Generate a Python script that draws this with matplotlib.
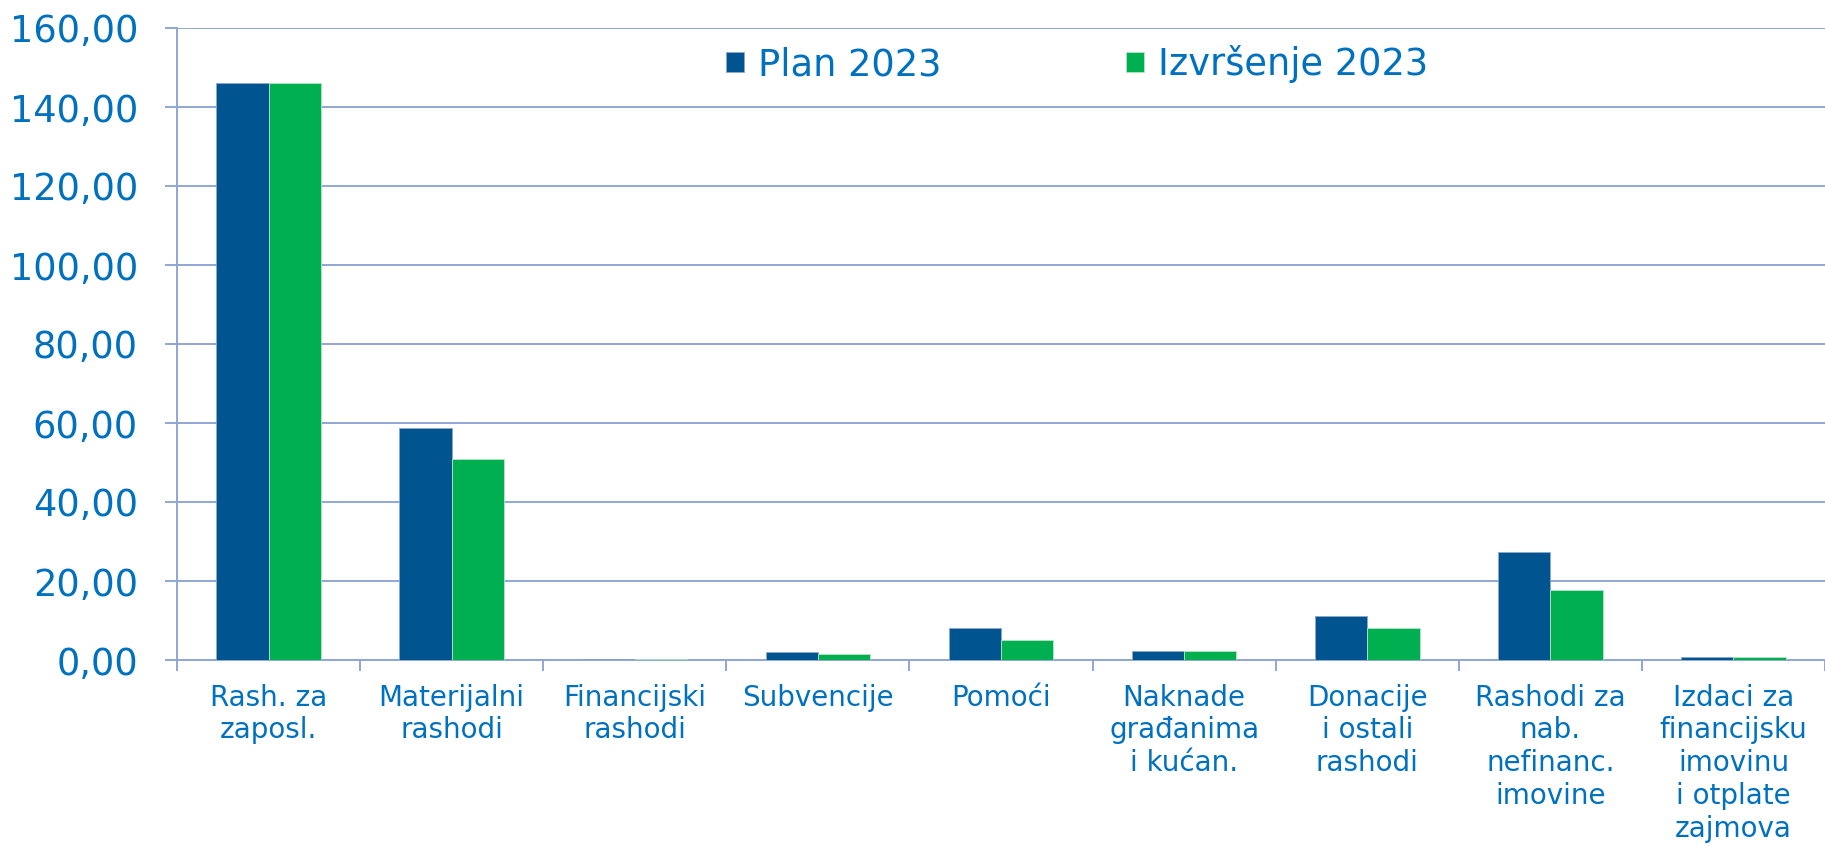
import matplotlib
matplotlib.use("Agg")
import matplotlib.pyplot as plt
import numpy as np
from matplotlib.ticker import FuncFormatter, FixedLocator

categories = ["Rash. za\nzaposl.", "Materijalni\nrashodi", "Financijski\nrashodi",
              "Subvencije", "Pomoći", "Naknade\ngrađanima\ni kućan.",
              "Donacije\ni ostali\nrashodi", "Rashodi za\nnab.\nnefinanc.\nimovine",
              "Izdaci za\nfinancijsku\nimovinu\ni otplate\nzajmova"]
plan_2023 = [146.0, 58.7, 0.3, 1.9, 8.2, 2.3, 11.2, 27.3, 0.8]
izvrsenje_2023 = [146.0, 51.0, 0.2, 1.4, 5.1, 2.2, 8.2, 17.6, 0.8]

text_col = "#0070C0"
grid_col = "#8FA6D4"
plan_col = "#00548F"
izvr_col = "#00B050"

plt.rcParams['font.family'] = ['DejaVu Sans']

fig = plt.figure(figsize=(18.25, 8.47), dpi=100)
ax = fig.add_axes([177 / 1825, 1 - 660 / 847, 1 - 177 / 1825, 632 / 847])

x = np.arange(len(categories))
w = 0.286
ax.bar(x - w / 2, plan_2023, w, color=plan_col, edgecolor="#8FA6CF", linewidth=0.6,
       label="Plan 2023", zorder=3)
ax.bar(x + w / 2, izvrsenje_2023, w, color=izvr_col, edgecolor="#B8E6C8", linewidth=0.6,
       label="Izvršenje 2023", zorder=3)

ax.set_xlim(-0.5, len(categories) - 0.5)
ax.set_ylim(0, 160)
ax.set_yticks(np.arange(0, 161, 20))
ax.yaxis.set_major_formatter(FuncFormatter(lambda v, p: f"{v:.2f}".replace(".", ",")))
ax.grid(axis="y", color=grid_col, linewidth=1.4, zorder=0)

ax.set_xticks(x)
ax.set_xticklabels(categories, fontsize=20, color=text_col, linespacing=1.22, va="top")
ax.xaxis.set_minor_locator(FixedLocator(np.arange(-0.5, len(categories), 1.0)))
ax.tick_params(axis="x", which="major", length=0, pad=17)
ax.tick_params(axis="x", which="minor", length=8, width=1.4, color=grid_col)
ax.tick_params(axis="y", length=9, width=1.4, color=grid_col, labelsize=26.5,
               labelcolor=text_col, pad=19)

for s in ["top", "right"]:
    ax.spines[s].set_visible(False)
for s in ["left", "bottom"]:
    ax.spines[s].set_color(grid_col)
    ax.spines[s].set_linewidth(1.4)

leg = ax.legend(ncol=2, loc="center left", bbox_to_anchor=(726 / 1825, 1 - 64 / 847),
                bbox_transform=fig.transFigure, frameon=False, fontsize=26.5,
                handlelength=0.48, handleheight=0.48, handletextpad=0.4,
                columnspacing=5.0, borderpad=0, borderaxespad=0)
for t in leg.get_texts():
    t.set_color(text_col)

fig.savefig("out.png", dpi=100)
